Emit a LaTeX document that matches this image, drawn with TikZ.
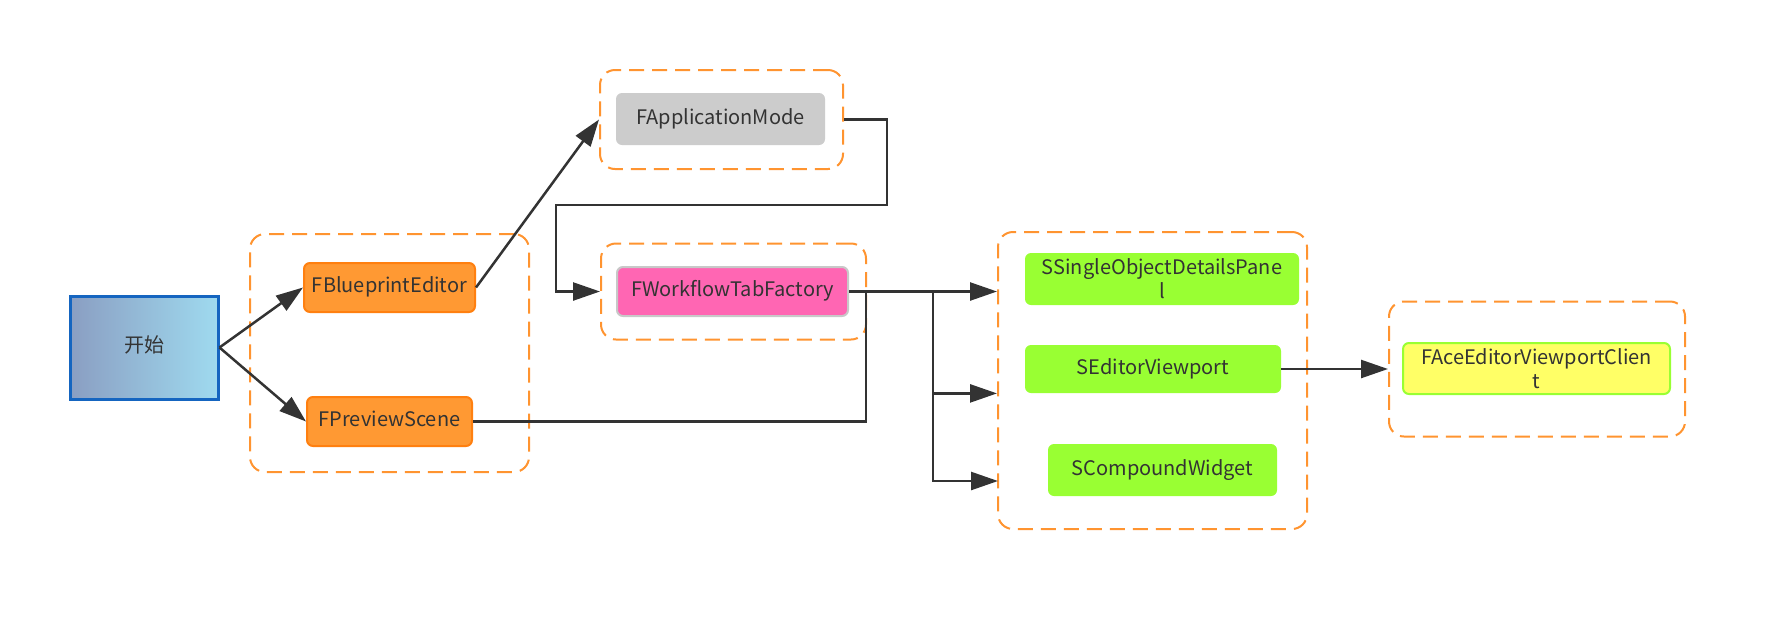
\documentclass[tikz,border=0pt]{standalone}
\usepackage{fontspec}
\setmainfont{Noto Sans CJK SC}
\usetikzlibrary{arrows.meta}

\definecolor{txtgray}{HTML}{333333}
\definecolor{lnorange}{HTML}{FF9430}
\definecolor{boxorange}{HTML}{FF9933}
\definecolor{bdorange}{HTML}{FF8010}
\definecolor{boxgray}{HTML}{CCCCCC}
\definecolor{boxpink}{HTML}{FF66B3}
\definecolor{bdpink}{HTML}{C8C8C8}
\definecolor{boxgreen}{HTML}{99FF33}
\definecolor{boxyellow}{HTML}{FFFF66}
\definecolor{startleft}{HTML}{8A9EC2}
\definecolor{startright}{HTML}{9FDAEF}
\definecolor{startbd}{HTML}{1565C0}

\begin{document}
\begin{tikzpicture}[x=0.5pt,y=-0.5pt,
    font=\fontsize{10pt}{12pt}\selectfont, text=txtgray,
    group/.style={draw=lnorange, line width=1pt, dash pattern=on 7.5pt off 4pt,
        rounded corners=7.5pt, inner sep=0pt},
    cls/.style={rounded corners=3pt, inner sep=0pt, align=center},
    oneline/.style={text height=7pt, text depth=2pt},
    orangebox/.style={cls, oneline, fill=boxorange, draw=bdorange, line width=1pt},
    link/.style={draw=txtgray, line width=1.25pt, -{Triangle[length=13.5pt,width=9pt]}},
    wire/.style={draw=txtgray, line width=1.25pt}]
  \useasboundingbox[fill=white] (0,0) rectangle (1776,622);

  % groups
  \node[group, minimum width=139.5pt, minimum height=119pt] (grpA) at (389.5,353) {};
  \node[group, minimum width=121.5pt, minimum height=49.5pt] (grpB) at (721.5,119.5) {};
  \node[group, minimum width=132.5pt, minimum height=48pt] (grpC) at (733.5,291.5) {};
  \node[group, minimum width=154.5pt, minimum height=148.5pt] (grpD) at (1152.5,380.5) {};
  \node[group, minimum width=148pt, minimum height=67.5pt] (grpE) at (1537,369) {};

  % classes
  \node[draw=startbd, line width=1.5pt, left color=startleft, right color=startright, oneline,
        minimum width=74pt, minimum height=51.5pt] (start) at (144,347.5) {开始};
  \node[orangebox, minimum width=85.5pt, minimum height=24.5pt] (bpe) at (389.5,287.5) {FBlueprintEditor};
  \node[orangebox, minimum width=82.5pt, minimum height=24.5pt] (pvs) at (389.5,421.5) {FPreviewScene};
  \node[cls, oneline, fill=boxgray, minimum width=104.5pt, minimum height=26pt] (appm) at (720.5,119) {FApplicationMode};
  \node[cls, oneline, fill=boxpink, draw=bdpink, line width=1pt, minimum width=115.5pt, minimum height=24.5pt] (wtf) at (732.5,291.5) {FWorkflowTabFactory};
  \node[cls, fill=boxgreen, minimum width=137pt, minimum height=26pt] (sodp) at (1162,279) {SSingleObjectDetailsPane\\l};
  \node[cls, oneline, fill=boxgreen, minimum width=128pt, minimum height=24pt] (sev) at (1153,369) {SEditorViewport};
  \node[cls, oneline, fill=boxgreen, minimum width=114.5pt, minimum height=26pt] (scw) at (1162.5,470) {SCompoundWidget};
  \node[cls, fill=boxyellow, draw=boxgreen, line width=1pt, minimum width=133.5pt, minimum height=25.5pt] (aevc) at (1536.5,368.5) {FAceEditorViewportClien\\t};

  % bends
  \coordinate (j1) at (887,205);
  \coordinate (j2) at (556,205);
  \coordinate (j3) at (866,291.5);
  \coordinate (j4) at (933,291.5);
  \coordinate (d3) at (998,481);

  \draw[link] (start.east) -- (bpe.west);
  \draw[link] (start.east) -- (pvs.west);
  \draw[link] (bpe.east) -- (grpB.west);
  \draw[link] (grpB.east) -| (j1) -- (j2) |- (grpC.west);
  \draw[wire] (pvs.east) -| (j3);
  \draw[link] (wtf.east) -- (wtf.east -| grpD.west);
  \draw[link] (j4) |- (grpD.west |- sev.south);
  \draw[link] (j4) |- (d3);
  \draw[link] (sev.east) -- (grpE.west);
\end{tikzpicture}
\end{document}
